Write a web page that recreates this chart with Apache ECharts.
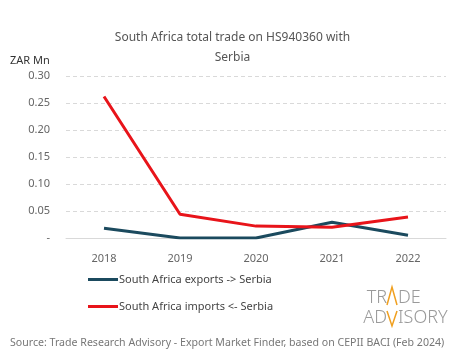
<!DOCTYPE html>
<html><head><meta charset="utf-8">
<script src="https://cdn.jsdelivr.net/npm/echarts@6/dist/echarts.min.js"></script>
<style>html,body{margin:0;padding:0;background:#fff}#c{width:465px;height:359px}</style>
</head><body><div id="c"></div>
<script>
const years = ['2018','2019','2020','2021','2022'];
const exportsSerbia = [0.018, 0.0, 0.0, 0.029, 0.005];
const importsSerbia = [0.262, 0.044, 0.022, 0.020, 0.039];
const yTicks = [0, 0.05, 0.10, 0.15, 0.20, 0.25, 0.30];
const FONT = '"Noto Sans", sans-serif';
const LOGO = '300 18px "Noto Sans", sans-serif';
const chart = echarts.init(document.getElementById('c'));
chart.setOption({
  animation: false,
  textStyle: {fontFamily: FONT},
  title: {
    text: 'South Africa total trade on HS940360 with\n\nSerbia',
    left: 'center', top: 28,
    textStyle: {fontSize: 12, fontWeight: 'normal', color: '#555', lineHeight: 10, fontFamily: FONT}
  },
  grid: {left: 66, right: 19, top: 76, bottom: 121},
  xAxis: {
    type: 'category', data: years, boundaryGap: true,
    axisLine: {lineStyle: {color: '#d9d9d9'}},
    axisTick: {show: false},
    axisLabel: {color: '#666', fontSize: 11, margin: 15}
  },
  yAxis: {
    type: 'value', min: yTicks[0], max: yTicks[yTicks.length-1], interval: 0.05,
    name: 'ZAR Mn', nameLocation: 'end', nameGap: 10,
    nameTextStyle: {color: '#333', fontSize: 11, align: 'left', padding: [0,0,0,-56]},
    axisLine: {show: false}, axisTick: {show: false},
    splitLine: {lineStyle: {color: '#d9d9d9', type: [4,3]}},
    axisLabel: {color: '#666', fontSize: 11, margin: 16,
      formatter: v => v === 0 ? '-' : v.toFixed(2)}
  },
  legend: {
    orient: 'vertical', left: 83, top: 269, itemGap: 16,
    itemWidth: 30, itemHeight: 3, icon: 'rect',
    textStyle: {color: '#444', fontSize: 11, padding: [0,0,0,-4]},
    data: ['South Africa exports -> Serbia', 'South Africa imports <- Serbia']
  },
  series: [
    {name: 'South Africa exports -> Serbia', type: 'line', data: exportsSerbia,
     symbol: 'none', lineStyle: {color: '#1b4a5e', width: 3}, itemStyle: {color: '#1b4a5e'}},
    {name: 'South Africa imports <- Serbia', type: 'line', data: importsSerbia,
     symbol: 'none', lineStyle: {color: '#e8141a', width: 3}, itemStyle: {color: '#e8141a'}}
  ],
  graphic: [
    {type: 'text', left: 10, top: 337, style: {text: 'Source: Trade Research Advisory - Export Market Finder, based on CEPII BACI (Feb 2024)', fill: '#777', font: '10.6px ' + FONT}},
    {type: 'text', x: 387, y: 307, style: {text: 'TR', fill: '#9a9a9a', font: LOGO, align: 'right', verticalAlign: 'bottom'}},
    {type: 'text', x: 398, y: 307, style: {text: 'DE', fill: '#9a9a9a', font: LOGO, align: 'left', verticalAlign: 'bottom'}},
    {type: 'text', x: 387, y: 327, style: {text: 'AD', fill: '#9a9a9a', font: LOGO, align: 'right', verticalAlign: 'bottom'}},
    {type: 'text', x: 398, y: 327, style: {text: 'ISORY', fill: '#9a9a9a', font: LOGO, align: 'left', verticalAlign: 'bottom'}},
    {type: 'polyline', shape: {points: [[387,305],[392,287],[397,305]]}, style: {stroke: '#f0a020', lineWidth: 1.5, fill: null}},
    {type: 'polyline', shape: {points: [[387,311],[392,326],[397,311]]}, style: {stroke: '#f0a020', lineWidth: 1.5, fill: null}}
  ]
});
</script></body></html>
